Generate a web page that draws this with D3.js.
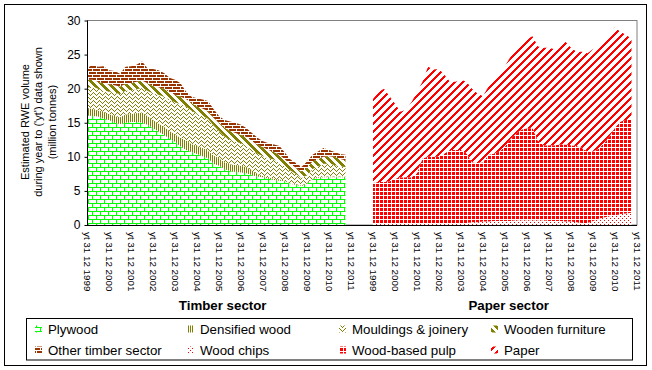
<!DOCTYPE html>
<html><head><meta charset="utf-8">
<script src="https://cdn.jsdelivr.net/npm/d3@7"></script>
<style>
body{margin:0;background:#fff}
text{font-family:Arial,"Liberation Sans",sans-serif;fill:#000}
</style>
</head><body>
<svg id="chart" width="652" height="370"></svg>
<script>
// ---------- DATA ----------
// month index from Dec 1999 (0) sampled quarterly
const sampleMonths = [0,3,6,9,12,15,18,21,24,27,30,33,36,39,42,45,48,51,54,57,60,63,66,69,72,75,78,81,84,87,90,93,96,99,102,105,108,111,114,117,120,123,126,129,132,135,138,141];
const sectors = ["Timber sector","Paper sector"];
const sectorOffsets = [0,156];
const yearLabels = ["yt 31 12 1999","yt 31 12 2000","yt 31 12 2001","yt 31 12 2002","yt 31 12 2003","yt 31 12 2004","yt 31 12 2005","yt 31 12 2006","yt 31 12 2007","yt 31 12 2008","yt 31 12 2009","yt 31 12 2010","yt 31 12 2011"];
const yTicks = [0,5,10,15,20,25,30];

// Timber sector (million tonnes RWE)
const plywood    = [16.1,16.0,15.9,15.6,15.4,15.0,14.8,15.0,15.1,15.1,15.0,14.7,14.2,13.7,13.2,12.7,12.2,11.5,11.0,10.7,10.4,10.1,9.8,9.0,8.7,8.2,7.9,7.8,7.7,7.6,7.3,7.1,7.0,6.8,6.6,6.5,6.4,6.0,5.9,5.7,6.1,6.7,6.9,7.0,7.0,7.0,7.0,7.0];
const densified  = [1.1,1.0,0.9,1.0,0.9,1.0,1.0,1.2,1.2,1.3,1.5,1.3,1.2,1.2,1.2,1.1,1.1,1.3,1.4,1.2,1.2,1.2,1.1,1.2,1.1,1.0,1.0,1.0,1.0,0.9,0.7,0.4,0.2,0.2,0.2,0.2,0.1,0.1,0.1,0.1,0.1,0.1,0.1,0.1,0.1,0.1,0.1,0.1];
const mouldings  = [2.9,3.3,3.2,3.1,3.3,3.4,3.4,3.5,3.5,3.5,3.6,3.7,3.9,4.2,4.4,4.6,4.7,4.9,5.0,4.9,4.7,4.7,4.7,4.4,4.0,3.8,3.6,3.4,3.3,3.1,3.0,3.0,2.9,2.8,2.8,2.5,2.0,1.9,1.5,1.1,1.1,1.4,1.6,1.9,1.9,1.7,1.5,1.4];
const furniture  = [1.2,1.0,1.0,1.1,1.0,1.1,1.1,1.0,1.0,1.1,1.1,1.1,1.1,1.1,1.2,1.1,1.1,1.1,1.1,1.1,1.1,1.1,1.1,1.2,1.2,1.3,1.3,1.3,1.2,1.3,1.3,1.3,1.3,1.2,1.1,1.1,1.1,0.9,0.9,0.9,1.1,1.1,1.1,1.0,1.1,1.2,1.1,1.0];
const otherTimber= [1.7,2.2,2.2,2.5,2.1,2.1,1.9,2.5,2.5,2.5,2.8,2.2,2.5,2.5,2.3,2.1,2.2,2.0,1.1,0.9,1.2,1.3,1.5,1.2,1.0,1.1,1.4,1.5,1.5,1.3,1.2,1.0,0.9,1.0,1.1,1.3,1.0,0.7,0.7,0.7,0.9,1.0,1.1,1.3,0.9,0.7,0.7,0.8];

// Paper sector
const woodChips  = [0.3,0.3,0.3,0.3,0.3,0.2,0.2,0.2,0.2,0.2,0.3,0.3,0.3,0.3,0.3,0.3,0.3,0.3,0.4,0.4,0.5,0.5,0.6,0.6,0.6,0.6,0.7,0.7,0.7,0.7,0.7,0.7,0.6,0.6,0.6,0.5,0.5,0.4,0.3,0.3,0.6,0.9,1.1,1.3,1.4,1.6,1.7,1.8];
const woodPulp   = [5.9,6.0,6.0,6.1,6.5,6.8,6.8,6.8,7.4,9.6,9.7,9.7,9.7,10.2,10.7,10.7,10.7,10.2,8.8,8.7,8.7,9.8,9.9,10.2,10.9,12.0,12.7,13.3,13.5,13.5,11.6,11.0,11.1,11.1,11.2,11.3,11.2,11.2,11.0,10.4,10.2,10.3,10.9,11.7,12.9,13.6,13.7,13.7];
const paper      = [12.3,13.2,13.7,12.5,11.0,9.6,9.9,11.0,11.9,11.2,13.2,12.8,12.9,11.5,10.0,10.0,10.3,10.5,10.8,10.2,9.7,10.0,11.0,11.5,11.8,12.1,12.2,12.6,13.1,13.5,13.9,14.3,14.3,14.1,14.3,15.1,14.3,13.8,14.1,14.5,15.0,15.0,15.0,15.0,14.7,13.1,12.5,11.8];

const timberKeys = ["plywood","densified","mouldings","furniture","otherTimber"];
const paperKeys  = ["woodChips","woodPulp","paper"];
const seriesData = {plywood,densified,mouldings,furniture,otherTimber,woodChips,woodPulp,paper};
const legendNames = {plywood:"Plywood",densified:"Densified wood",mouldings:"Mouldings & joinery",furniture:"Wooden furniture",
  otherTimber:"Other timber sector",woodChips:"Wood chips",woodPulp:"Wood-based pulp",paper:"Paper"};
const legendOrder = ["plywood","densified","mouldings","furniture","otherTimber","woodChips","woodPulp","paper"];

// ---------- CHART ----------
const svg = d3.select("#chart");
const plot = {left:87, right:637, top:20.5, bottom:225};

svg.append("rect").attr("x",4.5).attr("y",4.5).attr("width",642).attr("height",361)
  .attr("fill","#fff").attr("stroke","#000").attr("stroke-width",1);

// patterns (pixel tiles drawn as one crisp path)
const defs = svg.append("defs");
function tile(id, w, h, bg, fg, pix){
  const p = defs.append("pattern").attr("id",id).attr("patternUnits","userSpaceOnUse")
    .attr("width",w).attr("height",h);
  p.append("rect").attr("width",w).attr("height",h).attr("fill",bg).attr("shape-rendering","crispEdges");
  const d = pix.map(([px,py])=>`M${px},${py}h1v1h-1z`).join("");
  p.append("path").attr("d",d).attr("fill",fg).attr("shape-rendering","crispEdges");
}
const OLIVE = "#808000", GREEN="#00ff00", BROWN="#993300", RED="#ff0000";
(function(){const a=[];for(let i=0;i<8;i++){a.push([i,3]);a.push([i,7]);}
  for(let j=0;j<3;j++){a.push([0,j]);a.push([4,4+j]);} tile("p-plywood",8,8,"#fff",GREEN,a);})();
tile("p-densified",2,1,"#fff",OLIVE,[[0,0]]);
tile("p-mouldings",6,4,"#fff",OLIVE,[[0,3],[1,2],[2,1],[3,0],[4,1],[5,2]]);
(function(){const a=[];for(let y=0;y<8;y++)for(let k=0;k<4;k++)a.push([(y+k)%8,y]);tile("p-furniture",8,8,"#fff",OLIVE,a);})();
(function(){const a=[];for(let i=0;i<8;i++){a.push([i,2]);a.push([i,5]);}
  a.push([0,0],[0,1],[4,3],[4,4]); tile("p-otherTimber",8,6,BROWN,"#fff",a);})();
tile("p-woodChips",4,4,"#fff",RED,[[0,0],[2,2]]);
(function(){const a=[];for(let i=0;i<4;i++){a.push([3,i]);if(i<3)a.push([i,3]);}tile("p-woodPulp",4,4,RED,"#fff",a);})();
(function(){const a=[];for(let y=0;y<8;y++)for(let k=0;k<3;k++)a.push([((7-y)+k)%8,y]);tile("p-paper",8,8,"#fff",RED,a);})();

const x = d3.scaleLinear().domain([0,300]).range([plot.left,plot.right]);
const y = d3.scaleLinear().domain([0,30]).range([plot.bottom,plot.top]);

svg.append("rect").attr("x",plot.left+0.5).attr("y",plot.top).attr("width",plot.right-plot.left-0.5)
  .attr("height",plot.bottom-plot.top).attr("fill","none").attr("stroke","#808080").attr("stroke-width",1);

function drawStack(keys, offset){
  const rows = sampleMonths.map((m,i)=>{const r={m};keys.forEach(k=>r[k]=seriesData[k][i]);return r;});
  const st = d3.stack().keys(keys)(rows);
  const area = d3.area().x(d=>x(offset+d.data.m)).y0(d=>y(d[0])).y1(d=>y(d[1]));
  svg.append("g").selectAll("path").data(st).join("path")
    .attr("d",area).attr("fill",d=>`url(#p-${d.key})`);
}
drawStack(timberKeys, sectorOffsets[0]);
drawStack(paperKeys, sectorOffsets[1]);

const yAxis = d3.axisLeft(y).tickValues(yTicks).tickSize(3).tickPadding(4);
const gy = svg.append("g").attr("transform",`translate(${plot.left+0.5},0)`).call(yAxis);
gy.select(".domain").remove();
gy.selectAll(".tick line").attr("stroke","#000");
gy.selectAll("text").style("font-size","12px").attr("fill","#000");
svg.append("line").attr("x1",plot.left+0.5).attr("x2",plot.left+0.5).attr("y1",plot.top).attr("y2",plot.bottom)
  .attr("stroke","#000");
svg.append("line").attr("x1",plot.left).attr("x2",plot.right).attr("y1",plot.bottom+0.5).attr("y2",plot.bottom+0.5)
  .attr("stroke","#000");

sectorOffsets.forEach((off,si)=>{
  yearLabels.forEach((lab,k)=>{
    const xx = x(off + 12*k);
    svg.append("text").attr("transform",`translate(${xx},232) rotate(90)`)
      .attr("dy","0.35em").style("font-size","9.8px").text(lab);
  });
  svg.append("text").attr("x",x(off+74)).attr("y",309.5).attr("text-anchor","middle")
    .style("font-size","13.3px").style("font-weight","bold").text(sectors[si]);
});

const yTitle = ["Estimated RWE volume","during year to ('yt') data shown","(million tonnes)"];
yTitle.forEach((t,i)=>{
  svg.append("text").attr("transform",`translate(${25+i*13.5},122) rotate(-90)`)
    .attr("text-anchor","middle").attr("dy","0.35em").style("font-size","11px").text(t);
});

svg.append("rect").attr("x",26.5).attr("y",318.5).attr("width",606).attr("height",41.5)
  .attr("fill","#fff").attr("stroke","#000");
const colX = [35,187,339,491];
const rowY = [329,350];
legendOrder.forEach((k,i)=>{
  const cx = colX[i%4], cy = rowY[Math.floor(i/4)];
  svg.append("rect").attr("x",cx).attr("y",cy-3.5).attr("width",7).attr("height",7)
    .attr("fill",`url(#p-${k})`);
  svg.append("text").attr("x",cx+13).attr("y",cy).attr("dy","0.35em")
    .style("font-size","13.3px").text(legendNames[k]);
});
</script>
</body></html>
